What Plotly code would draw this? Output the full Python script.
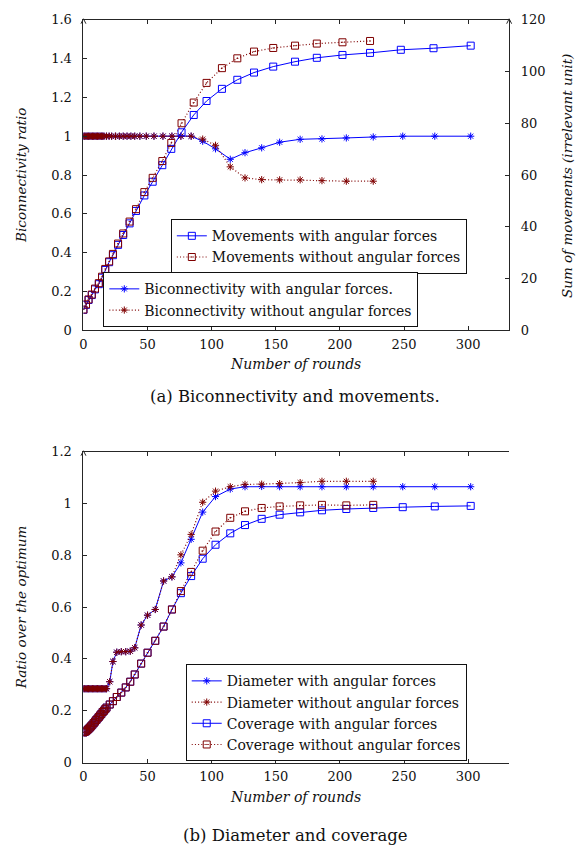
import plotly.graph_objects as go

W, H = 576, 856

# ---------------- Top chart data (Biconnectivity and movements) ----------------
bicon_x_with = [0, 1, 2, 3, 4, 5, 6, 7, 8, 9, 10, 11, 12, 13, 14, 15, 16,
                18, 20, 22, 25, 28, 31, 34, 37, 40, 44, 49, 55, 62, 69, 76, 84,
                93, 103, 114.5, 126, 139, 153, 169, 186, 205, 226, 249, 274, 302]
bicon_with = [1.0, 1.0, 1.0, 1.0, 1.0, 1.0, 1.0, 1.0, 1.0, 1.0, 1.0, 1.0, 1.0, 1.0, 1.0, 1.0, 1.0,
              1.0, 1.0, 1.0, 1.0, 1.0, 1.0, 1.0, 1.0, 1.0, 1.0, 1.0, 1.0, 1.0, 1.0, 1.0, 1.0,
              0.974, 0.935, 0.881, 0.915, 0.940, 0.969, 0.984, 0.986, 0.991, 0.996, 1.0, 1.0, 1.0]
bicon_x_without = [0, 1, 2, 3, 4, 5, 6, 7, 8, 9, 10, 11, 12, 13, 14, 15, 16,
                   18, 20, 22, 25, 28, 31, 34, 37, 40, 44, 49, 55, 62, 69, 76, 84,
                   93, 103, 114.5, 126, 139, 153, 169, 186, 205, 226]
bicon_without = [1.0, 1.0, 1.0, 1.0, 1.0, 1.0, 1.0, 1.0, 1.0, 1.0, 1.0, 1.0, 1.0, 1.0, 1.0, 1.0, 1.0,
                 1.0, 1.0, 1.0, 1.0, 1.0, 1.0, 1.0, 1.0, 1.0, 1.0, 1.0, 1.0, 1.0, 1.0, 1.0, 1.0,
                 0.985, 0.953, 0.842, 0.785, 0.776, 0.775, 0.775, 0.771, 0.768, 0.768]

mov_x_with = [0, 2, 4, 6.5, 9, 12, 14.5, 17, 20, 23, 27, 31, 36, 41, 47.5, 54, 61.5, 68.5,
              76.5, 86, 96, 108, 120, 133, 148, 165, 182, 202, 223.5, 247.5, 273, 302]
mov_with = [7.9, 9.8, 11.7, 13.6, 15.8, 17.8, 20.3, 23.3, 26.3, 29.0, 33.0, 36.8, 41.3, 46.1,
            52.1, 57.4, 63.8, 70.1, 76.5, 83.2, 88.6, 93.3, 96.8, 99.6, 101.9, 103.8, 105.3,
            106.4, 107.2, 108.4, 109.0, 110.0]
mov_x_without = [0, 2, 4, 6.5, 9, 12, 14.5, 17, 20, 23, 27, 31, 36, 41, 47.5, 54, 61.5, 68.5,
                 76.5, 86, 96, 108, 120, 133, 148, 165, 182, 202, 223.5]
mov_without = [8.0, 10.0, 11.9, 13.8, 16.1, 18.2, 20.7, 23.7, 26.6, 29.5, 33.5, 37.4, 42.0, 46.8,
               53.4, 58.9, 65.4, 72.4, 80.0, 88.0, 95.6, 101.3, 105.1, 107.7, 109.1, 110.0,
               110.8, 111.3, 111.8]

# ---------------- Bottom chart data (Diameter and coverage) ----------------
dc_x_with = [0, 1, 2, 3, 4, 5, 6, 7, 8, 9, 10, 11, 12, 13, 14, 15, 16, 17, 18,
             20.5, 23, 26, 29.5, 33, 36.5, 40, 45, 50, 56, 62.5, 69,
             76, 84, 93, 103, 114.5, 126, 139, 153, 169, 186, 205, 226, 249, 274, 302]
dc_x_without = [0, 1, 2, 3, 4, 5, 6, 7, 8, 9, 10, 11, 12, 13, 14, 15, 16, 17, 18,
                20.5, 23, 26, 29.5, 33, 36.5, 40, 45, 50, 56, 62.5, 69,
                76, 84, 93, 103, 114.5, 126, 139, 153, 169, 186, 205, 226]
diam_with = [0.285, 0.285, 0.285, 0.285, 0.285, 0.285, 0.285, 0.285, 0.285, 0.285,
             0.285, 0.285, 0.285, 0.285, 0.285, 0.285, 0.285, 0.285, 0.285,
             0.312, 0.390, 0.426, 0.428, 0.428, 0.430, 0.443, 0.531, 0.569, 0.591, 0.701, 0.717,
             0.771, 0.862, 0.967, 1.027, 1.056, 1.065, 1.066, 1.065, 1.065, 1.065, 1.065, 1.065,
             1.065, 1.065, 1.065]
diam_without = [0.285, 0.285, 0.285, 0.285, 0.285, 0.285, 0.285, 0.285, 0.285, 0.285,
                0.285, 0.285, 0.285, 0.285, 0.285, 0.285, 0.285, 0.285, 0.285,
                0.312, 0.390, 0.426, 0.428, 0.428, 0.430, 0.443, 0.531, 0.569, 0.591, 0.701, 0.717,
                0.802, 0.881, 1.005, 1.048, 1.065, 1.074, 1.075, 1.077, 1.081, 1.086, 1.086, 1.086]
cov_with = [0.116, 0.118, 0.121, 0.125, 0.130, 0.135, 0.140, 0.146, 0.152, 0.158,
            0.164, 0.170, 0.176, 0.182, 0.188, 0.195, 0.200, 0.206, 0.212,
            0.224, 0.237, 0.253, 0.270, 0.290, 0.312, 0.340, 0.382, 0.424, 0.470, 0.525, 0.591,
            0.654, 0.720, 0.787, 0.841, 0.885, 0.917, 0.941, 0.957, 0.966, 0.974, 0.979, 0.983,
            0.986, 0.989, 0.991]
cov_without = [0.116, 0.118, 0.121, 0.125, 0.130, 0.135, 0.140, 0.146, 0.152, 0.158,
               0.164, 0.170, 0.176, 0.182, 0.188, 0.195, 0.200, 0.206, 0.212,
               0.224, 0.237, 0.253, 0.270, 0.290, 0.312, 0.340, 0.382, 0.424, 0.470, 0.525, 0.591,
               0.662, 0.736, 0.818, 0.892, 0.945, 0.970, 0.983, 0.989, 0.993, 0.995, 0.993, 0.995]

x_ticks = [0, 50, 100, 150, 200, 250, 300]
x_range = [0, 332]

BLUE = "#0000ff"
RED = "#7f0000"
FONT = "DejaVu Serif"
AXC = "#262626"
DOTS = "1px,2.2px"


def px(x):
    return x / W


def py(y):
    return 1 - y / H


fig = go.Figure()

# top chart: biconnectivity (left axis)
fig.add_trace(go.Scatter(x=bicon_x_with, y=bicon_with, mode="lines+markers",
                         name="Biconnectivity with angular forces.",
                         line=dict(color=BLUE, width=1),
                         marker=dict(symbol="asterisk-open", size=6, line=dict(color=BLUE, width=1)),
                         xaxis="x", yaxis="y", legend="legend2"))
fig.add_trace(go.Scatter(x=bicon_x_without, y=bicon_without, mode="lines+markers",
                         name="Biconnectivity without angular forces",
                         line=dict(color=RED, width=1.2, dash=DOTS),
                         marker=dict(symbol="asterisk-open", size=6, line=dict(color=RED, width=1)),
                         xaxis="x", yaxis="y", legend="legend2"))
# top chart: movements (right axis)
fig.add_trace(go.Scatter(x=mov_x_with, y=mov_with, mode="lines+markers",
                         name="Movements with angular forces",
                         line=dict(color=BLUE, width=1),
                         marker=dict(symbol="square-open", size=7, line=dict(color=BLUE, width=1)),
                         xaxis="x", yaxis="y2", legend="legend"))
fig.add_trace(go.Scatter(x=mov_x_without, y=mov_without, mode="lines+markers",
                         name="Movements without angular forces",
                         line=dict(color=RED, width=1.2, dash=DOTS),
                         marker=dict(symbol="square-open-dot", size=7, line=dict(color=RED, width=1)),
                         xaxis="x", yaxis="y2", legend="legend"))

# bottom chart
fig.add_trace(go.Scatter(x=dc_x_with, y=diam_with, mode="lines+markers",
                         name="Diameter with angular forces",
                         line=dict(color=BLUE, width=1),
                         marker=dict(symbol="asterisk-open", size=6, line=dict(color=BLUE, width=1)),
                         xaxis="x2", yaxis="y3", legend="legend3"))
fig.add_trace(go.Scatter(x=dc_x_without, y=diam_without, mode="lines+markers",
                         name="Diameter without angular forces",
                         line=dict(color=RED, width=1.2, dash=DOTS),
                         marker=dict(symbol="asterisk-open", size=6, line=dict(color=RED, width=1)),
                         xaxis="x2", yaxis="y3", legend="legend3"))
fig.add_trace(go.Scatter(x=dc_x_with, y=cov_with, mode="lines+markers",
                         name="Coverage with angular forces",
                         line=dict(color=BLUE, width=1),
                         marker=dict(symbol="square-open", size=7, line=dict(color=BLUE, width=1)),
                         xaxis="x2", yaxis="y3", legend="legend3"))
fig.add_trace(go.Scatter(x=dc_x_without, y=cov_without, mode="lines+markers",
                         name="Coverage without angular forces",
                         line=dict(color=RED, width=1.2, dash=DOTS),
                         marker=dict(symbol="square-open-dot", size=7, line=dict(color=RED, width=1)),
                         xaxis="x2", yaxis="y3", legend="legend3"))

tickfont = dict(family=FONT, size=13, color="#111")
common_x = dict(range=x_range, tickvals=x_ticks, showline=True, linecolor=AXC, linewidth=1,
                mirror="ticks", ticks="inside", ticklen=4, tickcolor=AXC, tickfont=tickfont,
                showgrid=False, zeroline=False, domain=[px(80), px(508.7)], ticklabelstandoff=2)
common_y = dict(showline=True, linecolor=AXC, linewidth=1, ticks="inside", ticklen=4,
                tickcolor=AXC, tickfont=tickfont, showgrid=False, zeroline=False,
                ticklabelstandoff=8)

legend_common = dict(bgcolor="white", bordercolor="#111", borderwidth=1,
                     font=dict(family=FONT, size=14, color="#111"),
                     xanchor="left", yanchor="top", tracegroupgap=0,
                     itemwidth=30, traceorder="normal")

fig.update_layout(
    width=W, height=H,
    margin=dict(l=0, r=0, t=0, b=0),
    paper_bgcolor="white", plot_bgcolor="white",
    showlegend=True,
    xaxis=dict(anchor="y", **common_x),
    xaxis2=dict(anchor="y3", **common_x),
    yaxis=dict(anchor="x", domain=[py(329), py(13)], range=[0, 1.6], dtick=0.2, tick0=0,
               side="left", **common_y),
    yaxis2=dict(anchor="x", overlaying="y", side="right", range=[0, 120], dtick=20, tick0=0,
                **common_y),
    yaxis3=dict(anchor="x2", domain=[py(769), py(452.7)], range=[0, 1.2], dtick=0.2, tick0=0,
                side="left", **common_y),
    legend=dict(x=px(168), y=py(216), **legend_common),
    legend2=dict(x=px(100), y=py(270), **legend_common),
    legend3=dict(x=px(183), y=py(669), **legend_common),
)

ann_font = dict(family=FONT, color="#111")
annotations = [
    dict(text="<i>Biconnectivity ratio</i>", x=px(17), y=py(171), textangle=-90,
         font=dict(size=13.5, **ann_font)),
    dict(text="<i>Sum of movements (irrelevant unit)</i>", x=px(567), y=py(172), textangle=-90,
         font=dict(size=13.5, **ann_font)),
    dict(text="<i>Number of rounds</i>", x=px(294), y=py(363),
         font=dict(size=14, **ann_font)),
    dict(text="(a) Biconnectivity and movements.", x=px(293), y=py(396),
         font=dict(size=16.5, **ann_font)),
    dict(text="<i>Ratio over the optimum</i>", x=px(17), y=py(611), textangle=-90,
         font=dict(size=13.5, **ann_font)),
    dict(text="<i>Number of rounds</i>", x=px(294), y=py(804),
         font=dict(size=14, **ann_font)),
    dict(text="(b) Diameter and coverage", x=px(294), y=py(843),
         font=dict(size=16.5, **ann_font)),
]
for a in annotations:
    a.update(xref="paper", yref="paper", showarrow=False, xanchor="center", yanchor="middle")
fig.update_layout(annotations=annotations)


# small arrow tips at the top of the vertical axes
def arrow_tip(xp, yp):
    return dict(type="path", xref="paper", yref="paper",
                path=f"M {px(xp-2.5)} {py(yp+4)} L {px(xp)} {py(yp-1)} L {px(xp+2.5)} {py(yp+4)}",
                line=dict(color=AXC, width=1))


fig.update_layout(shapes=[arrow_tip(80, 13), arrow_tip(508.7, 13), arrow_tip(80, 452.7)])

fig.write_html("out.html")
